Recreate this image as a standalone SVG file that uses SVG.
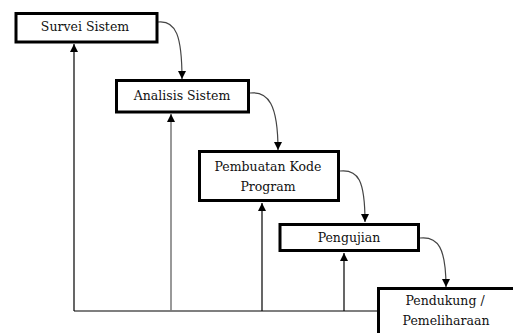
<svg xmlns="http://www.w3.org/2000/svg" width="513" height="333" viewBox="0 0 513 333">
<style>
.box{fill:#fff;stroke:#000;stroke-width:3}
.t{font-family:'DejaVu Serif','Liberation Serif',serif;font-size:12.5px;fill:#111;text-anchor:middle}
.c{fill:none;stroke:#444;stroke-width:1.2}
.v{fill:none;stroke:#000;stroke-width:1.2}
.g{fill:none;stroke:#777;stroke-width:1.5}
</style>
<defs>
<marker id="ah" markerUnits="userSpaceOnUse" markerWidth="9" markerHeight="9" refX="8" refY="4" orient="auto">
<path d="M0,0 L8,4 L0,8 z" fill="#000"/>
</marker>
</defs>
<rect width="513" height="333" fill="#fff"/>
<g id="connectors">
<path class="v" d="M378,311 L74,311"/>
<path class="v" d="M74,311 L74,44" marker-end="url(#ah)"/>
<path class="g" d="M171,311 L171,114" marker-end="url(#ah)"/>
<path class="v" d="M262,311 L262,203" marker-end="url(#ah)"/>
<path class="v" d="M344,311 L344,253" marker-end="url(#ah)"/>
<path class="c" d="M158,22 C176,20 182,36 182,79" marker-end="url(#ah)"/>
<path class="c" d="M250,93 C268,91 278,104 278,150" marker-end="url(#ah)"/>
<path class="c" d="M340,171 C358,169 365,180 365,222" marker-end="url(#ah)"/>
<path class="c" d="M420,238 C438,236 446,248 446,287" marker-end="url(#ah)"/>
</g>
<g id="survei">
<rect class="box" x="16" y="13.5" width="141" height="28.5"/>
<text class="t" x="85" y="31">Survei Sistem</text>
</g>
<g id="analisis">
<rect class="box" x="116.5" y="80.5" width="132" height="31.5"/>
<text class="t" x="182" y="100">Analisis Sistem</text>
</g>
<g id="pembuatan">
<rect class="box" x="199.5" y="151.5" width="139" height="49"/>
<text class="t" x="268" y="171">Pembuatan Kode</text>
<text class="t" x="268" y="191">Program</text>
</g>
<g id="pengujian">
<rect class="box" x="280" y="224.5" width="138.5" height="26"/>
<text class="t" x="349" y="242">Pengujian</text>
</g>
<g id="pendukung">
<rect class="box" x="378.5" y="288.5" width="150" height="60"/>
<text class="t" x="445" y="305">Pendukung /</text>
<text class="t" x="446" y="325">Pemeliharaan</text>
</g>
</svg>
